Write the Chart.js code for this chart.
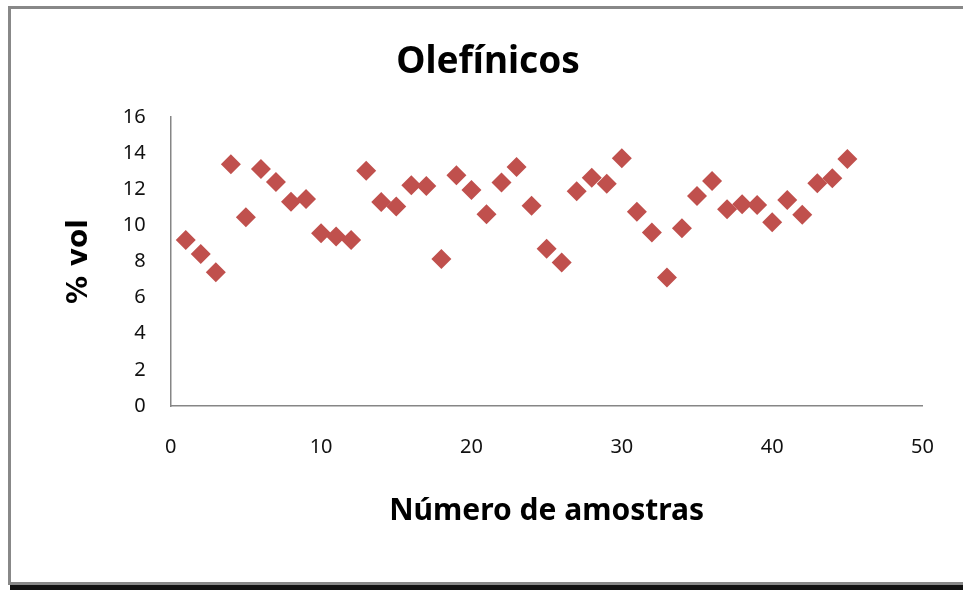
<!DOCTYPE html>
<html>
<head>
<meta charset="utf-8">
<title>Olefínicos</title>
<script src="https://cdn.jsdelivr.net/npm/chart.js@4.4.1/dist/chart.umd.min.js"></script>
<style>
  html, body { margin: 0; padding: 0; background: #fff; }
  canvas { display: block; }
</style>
</head>
<body>
<canvas id="olefChart" width="963" height="590"></canvas>
<script>
// amostras (eixo x) e teor de olefínicos (% vol)
const amostras = [1, 2, 3, 4, 5, 6, 7, 8, 9, 10, 11, 12, 13, 14, 15, 16, 17, 18, 19, 20, 21, 22, 23,
                  24, 25, 26, 27, 28, 29, 30, 31, 32, 33, 34, 35, 36, 37, 38, 39, 40, 41, 42, 43, 44, 45];
const olefinicos = [9.19, 8.42, 7.40, 13.38, 10.45, 13.12, 12.40, 11.31, 11.46, 9.56, 9.38, 9.19, 13.03,
                    11.30, 11.04, 12.22, 12.18, 8.14, 12.77, 11.96, 10.61, 12.37, 13.23, 11.09, 8.71,
                    7.95, 11.89, 12.64, 12.31, 13.71, 10.76, 9.60, 7.11, 9.84, 11.63, 12.46, 10.89,
                    11.17, 11.13, 10.17, 11.41, 10.59, 12.33, 12.61, 13.68];
const xTicks = [0, 10, 20, 30, 40, 50];
const yTicks = [0, 2, 4, 6, 8, 10, 12, 14, 16];

// moldura cinza com sombra em baixo, como no gráfico do Excel
const frame = {
    id: 'frame',
    beforeDraw(chart) {
        const c = chart.ctx;
        c.save();
        c.fillStyle = '#fff';
        c.fillRect(0, 0, chart.width, chart.height);
        c.fillStyle = '#888';
        c.fillRect(8, 6, chart.width - 8, 3);
        c.fillRect(8, 6, 3, 579);
        c.fillRect(8, 582, chart.width - 8, 3);
        c.fillStyle = '#111';
        c.fillRect(10, 585, chart.width - 10, 5);
        c.restore();
    }
};

const points = amostras.map((a, i) => ({ x: a, y: olefinicos[i] }));

new Chart(document.getElementById('olefChart'), {
    type: 'scatter',
    data: {
        datasets: [{
            label: 'Olefínicos',
            data: points,
            pointStyle: 'rectRot',
            pointRadius: 10,
            pointHoverRadius: 10,
            backgroundColor: '#C0504D',
            borderColor: '#C0504D',
            borderWidth: 0
        }]
    },
    options: {
        responsive: false,
        animation: false,
        devicePixelRatio: 1,
        layout: { padding: { left: 50.7, right: 37.7, top: 0, bottom: 0 } },
        plugins: {
            legend: { display: false },
            tooltip: { enabled: false },
            title: {
                display: true,
                text: 'Olefínicos',
                color: '#000',
                font: { family: 'Noto Sans', size: 37, weight: 'bold', lineHeight: 1.2 },
                padding: { top: 40, bottom: 32.6 }
            }
        },
        scales: {
            x: {
                type: 'linear',
                min: 0,
                max: 50,
                afterBuildTicks: s => { s.ticks = xTicks.map(v => ({ value: v })); },
                afterFit: s => { s.height = 184; },
                grid: { display: false, drawTicks: false, tickLength: 0 },
                border: { display: true, color: '#868686', width: 1.5 },
                ticks: {
                    padding: 29,
                    color: '#111',
                    font: { family: 'Noto Sans', size: 20, lineHeight: 1.2 }
                },
                title: {
                    display: true,
                    text: 'Número de amostras',
                    color: '#000',
                    font: { family: 'Noto Sans', size: 30, weight: 'bold', lineHeight: 1.2 },
                    padding: { top: 0, bottom: 61 }
                }
            },
            y: {
                type: 'linear',
                min: 0,
                max: 16,
                afterBuildTicks: s => { s.ticks = yTicks.map(v => ({ value: v })); },
                afterFit: s => { s.width = 120; },
                grid: { display: false, drawTicks: false, tickLength: 0 },
                border: { display: true, color: '#868686', width: 1.5 },
                ticks: {
                    padding: 25,
                    color: '#111',
                    font: { family: 'Noto Sans', size: 20, lineHeight: 1.2 }
                },
                title: {
                    display: true,
                    text: '% vol',
                    color: '#000',
                    font: { family: 'DejaVu Sans', size: 28, weight: 'bold', lineHeight: 1.2 },
                    padding: { top: 12, bottom: 0 }
                }
            }
        }
    },
    plugins: [frame]
});
</script>
</body>
</html>
